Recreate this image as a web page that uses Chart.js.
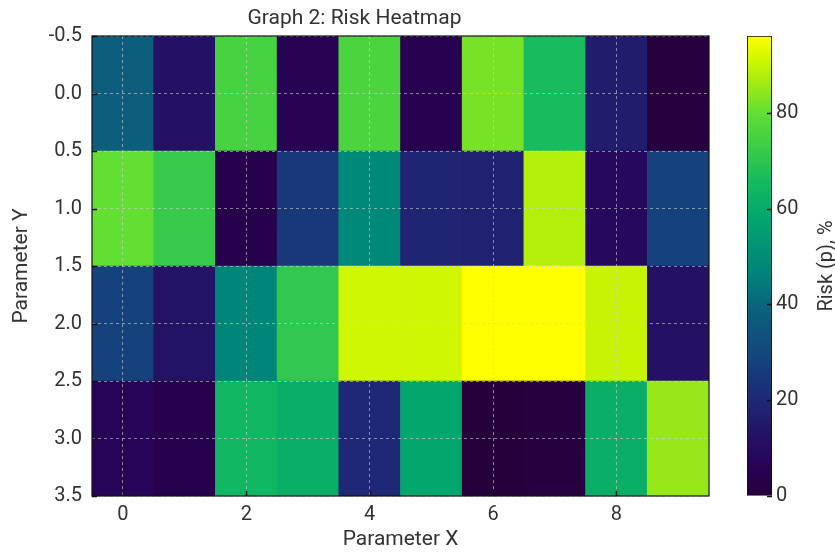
<!DOCTYPE html>
<html>
<head>
<meta charset="utf-8">
<script src="https://cdn.jsdelivr.net/npm/chart.js@4.4.1/dist/chart.umd.min.js"></script>
<style>
  body { margin: 0; background: #fff; }
  #wrap { position: relative; width: 835px; height: 554px; }
  #heat { position: absolute; left: 0; top: 0; }
  #cbar { position: absolute; left: 730px; top: 0; }
</style>
</head>
<body>
<div id="wrap">
  <canvas id="heat" width="730" height="554"></canvas>
  <canvas id="cbar" width="105" height="554"></canvas>
</div>
<script>
    // heatmap data
    const xCols = [0, 1, 2, 3, 4, 5, 6, 7, 8, 9];
    const yRows = [0, 1, 2, 3];
    const risk = [
        [38, 12, 75, 6, 76, 5, 82, 66, 16, 1],
        [80, 72, 4, 25, 48, 19, 18, 88, 9, 28],
        [28, 13, 47, 71, 91, 91, 96, 96, 90, 12],
        [7, 4, 64, 61, 20, 58, 0, 1, 61, 85]
    ];
    const xTicks = [0, 2, 4, 6, 8];
    const yTicks = [-0.5, 0, 0.5, 1, 1.5, 2, 2.5, 3, 3.5];
    const cbarTicks = [0, 20, 40, 60, 80];
    const riskMin = 0;
    const riskMax = 96;

    // colour map (fraction, rgb)
    const cmap = [
        [0.00, [38, 0, 58]],
        [0.06, [40, 1, 84]],
        [0.13, [36, 18, 100]],
        [0.21, [30, 40, 118]],
        [0.30, [20, 68, 125]],
        [0.40, [12, 95, 124]],
        [0.48, [0, 130, 122]],
        [0.60, [2, 165, 110]],
        [0.68, [20, 185, 95]],
        [0.75, [55, 202, 75]],
        [0.83, [95, 222, 52]],
        [0.90, [165, 235, 18]],
        [0.94, [200, 245, 2]],
        [1.00, [255, 255, 0]]
    ];

    function colorAt(t) {
        t = Math.max(0, Math.min(1, t));
        for (let i = 1; i < cmap.length; i++) {
            if (t <= cmap[i][0]) {
                let [t0, c0] = cmap[i - 1];
                let [t1, c1] = cmap[i];
                let f = (t - t0) / (t1 - t0);
                let c = c0.map((v, k) => Math.round(v + (c1[k] - v) * f));
                return `rgb(${c[0]},${c[1]},${c[2]})`;
            }
        }
        return 'rgb(255,255,0)';
    }

    function riskColor(v) {
        return colorAt((v - riskMin) / (riskMax - riskMin));
    }

    let cells = [];
    yRows.forEach((r, ri) => {
        xCols.forEach((c, ci) => {
            cells.push({ x: c, y: [r - 0.5, r + 0.5], v: risk[ri][ci] });
        });
    });

    Chart.defaults.font.family = 'Roboto';
    Chart.defaults.color = '#333';

    // black frame round the plot plus short inward tick marks
    const frame = {
        id: 'frame',
        afterDraw(chart) {
            const { ctx, chartArea: a, scales } = chart;
            ctx.save();
            ctx.strokeStyle = '#111';
            ctx.lineWidth = 1.2;
            ctx.strokeRect(a.left, a.top, a.right - a.left, a.bottom - a.top);
            ctx.beginPath();
            xTicks.forEach(v => {
                let px = Math.round(scales.x.getPixelForValue(v)) + 0.5;
                ctx.moveTo(px, a.bottom);
                ctx.lineTo(px, a.bottom - 5);
            });
            yTicks.forEach(v => {
                let py = Math.round(scales.y.getPixelForValue(v)) + 0.5;
                ctx.moveTo(a.left, py);
                ctx.lineTo(a.left + 5, py);
            });
            ctx.lineWidth = 1.5;
            ctx.stroke();
            ctx.restore();
        }
    };

    const gridOpts = { color: 'rgba(210,210,210,0.6)', lineWidth: 1, drawTicks: false, offset: false, z: 1 };

    const heatChart = new Chart(document.getElementById('heat'), {
        type: 'bar',
        data: {
            datasets: [{
                data: cells,
                backgroundColor: ctx => ctx.raw ? riskColor(ctx.raw.v) : '#000',
                borderWidth: 0,
                barPercentage: 1,
                categoryPercentage: 1
            }]
        },
        plugins: [frame],
        options: {
            responsive: false,
            animation: false,
            layout: { padding: { left: 0, right: 21, bottom: 0, top: 0 } },
            plugins: {
                legend: { display: false },
                tooltip: { enabled: false },
                title: {
                    display: true,
                    text: 'Graph 2: Risk Heatmap',
                    font: { size: 21, weight: 'normal' },
                    padding: { top: 6.4, bottom: 4.4 }
                }
            },
            scales: {
                x: {
                    type: 'linear',
                    min: -0.5,
                    max: 9.5,
                    offset: false,
                    afterBuildTicks: axis => { axis.ticks = xTicks.map(v => ({ value: v })); },
                    afterFit: axis => { axis.height = 58; },
                    ticks: { font: { size: 20 }, padding: 7 },
                    grid: gridOpts,
                    border: { display: false, dash: [3, 3] },
                    title: { display: true, text: 'Parameter X', font: { size: 21 }, padding: { top: 0, bottom: 1.4 } }
                },
                y: {
                    type: 'linear',
                    min: -0.5,
                    max: 3.5,
                    reverse: true,
                    afterBuildTicks: axis => { axis.ticks = yTicks.map(v => ({ value: v })); },
                    afterFit: axis => { axis.width = 92; },
                    ticks: { font: { size: 20 }, padding: 10, callback: v => v.toFixed(1) },
                    grid: gridOpts,
                    border: { display: false, dash: [3, 3] },
                    title: { display: true, text: 'Parameter Y', font: { size: 21 }, padding: { top: 9.4, bottom: 0 } }
                }
            }
        }
    });

    const cbarExtras = {
        id: 'cbarExtras',
        afterDraw(chart) {
            const { ctx, chartArea: a, scales } = chart;
            ctx.save();
            ctx.beginPath();
            cbarTicks.forEach(v => {
                let py = Math.round(scales.y.getPixelForValue(v)) + 0.5;
                ctx.moveTo(a.right, py);
                ctx.lineTo(a.right - 5, py);
            });
            ctx.strokeStyle = '#111';
            ctx.lineWidth = 1.5;
            ctx.stroke();
            ctx.translate(97, (a.top + a.bottom) / 2);
            ctx.rotate(-Math.PI / 2);
            ctx.textAlign = 'center';
            ctx.textBaseline = 'middle';
            ctx.fillStyle = '#333';
            ctx.font = '20px Roboto';
            ctx.fillText('Risk (p), %', 0, 0);
            ctx.restore();
        }
    };

    const cbarChart = new Chart(document.getElementById('cbar'), {
        type: 'bar',
        data: {
            labels: ['risk'],
            datasets: [{
                data: [[riskMin, riskMax]],
                backgroundColor: ctx => {
                    const chart = ctx.chart;
                    if (!chart.chartArea) return '#000';
                    const ys = chart.scales.y;
                    const g = chart.ctx.createLinearGradient(0, ys.getPixelForValue(riskMin), 0, ys.getPixelForValue(riskMax));
                    cmap.forEach(([t, c]) => g.addColorStop(t, `rgb(${c[0]},${c[1]},${c[2]})`));
                    return g;
                },
                borderColor: '#111',
                borderWidth: 1.2,
                borderSkipped: false,
                barPercentage: 1,
                categoryPercentage: 1
            }]
        },
        plugins: [cbarExtras],
        options: {
            responsive: false,
            animation: false,
            layout: { padding: { left: 17, top: 36, bottom: 58, right: 0 } },
            plugins: { legend: { display: false }, tooltip: { enabled: false } },
            scales: {
                x: { display: false },
                y: {
                    position: 'right',
                    min: riskMin,
                    max: riskMax,
                    afterBuildTicks: axis => { axis.ticks = cbarTicks.map(v => ({ value: v })); },
                    afterFit: axis => { axis.width = 63; },
                    ticks: { font: { size: 20 }, padding: 4 },
                    grid: { drawOnChartArea: false, drawTicks: false },
                    border: { display: false }
                }
            }
        }
    });
</script>
</body>
</html>
